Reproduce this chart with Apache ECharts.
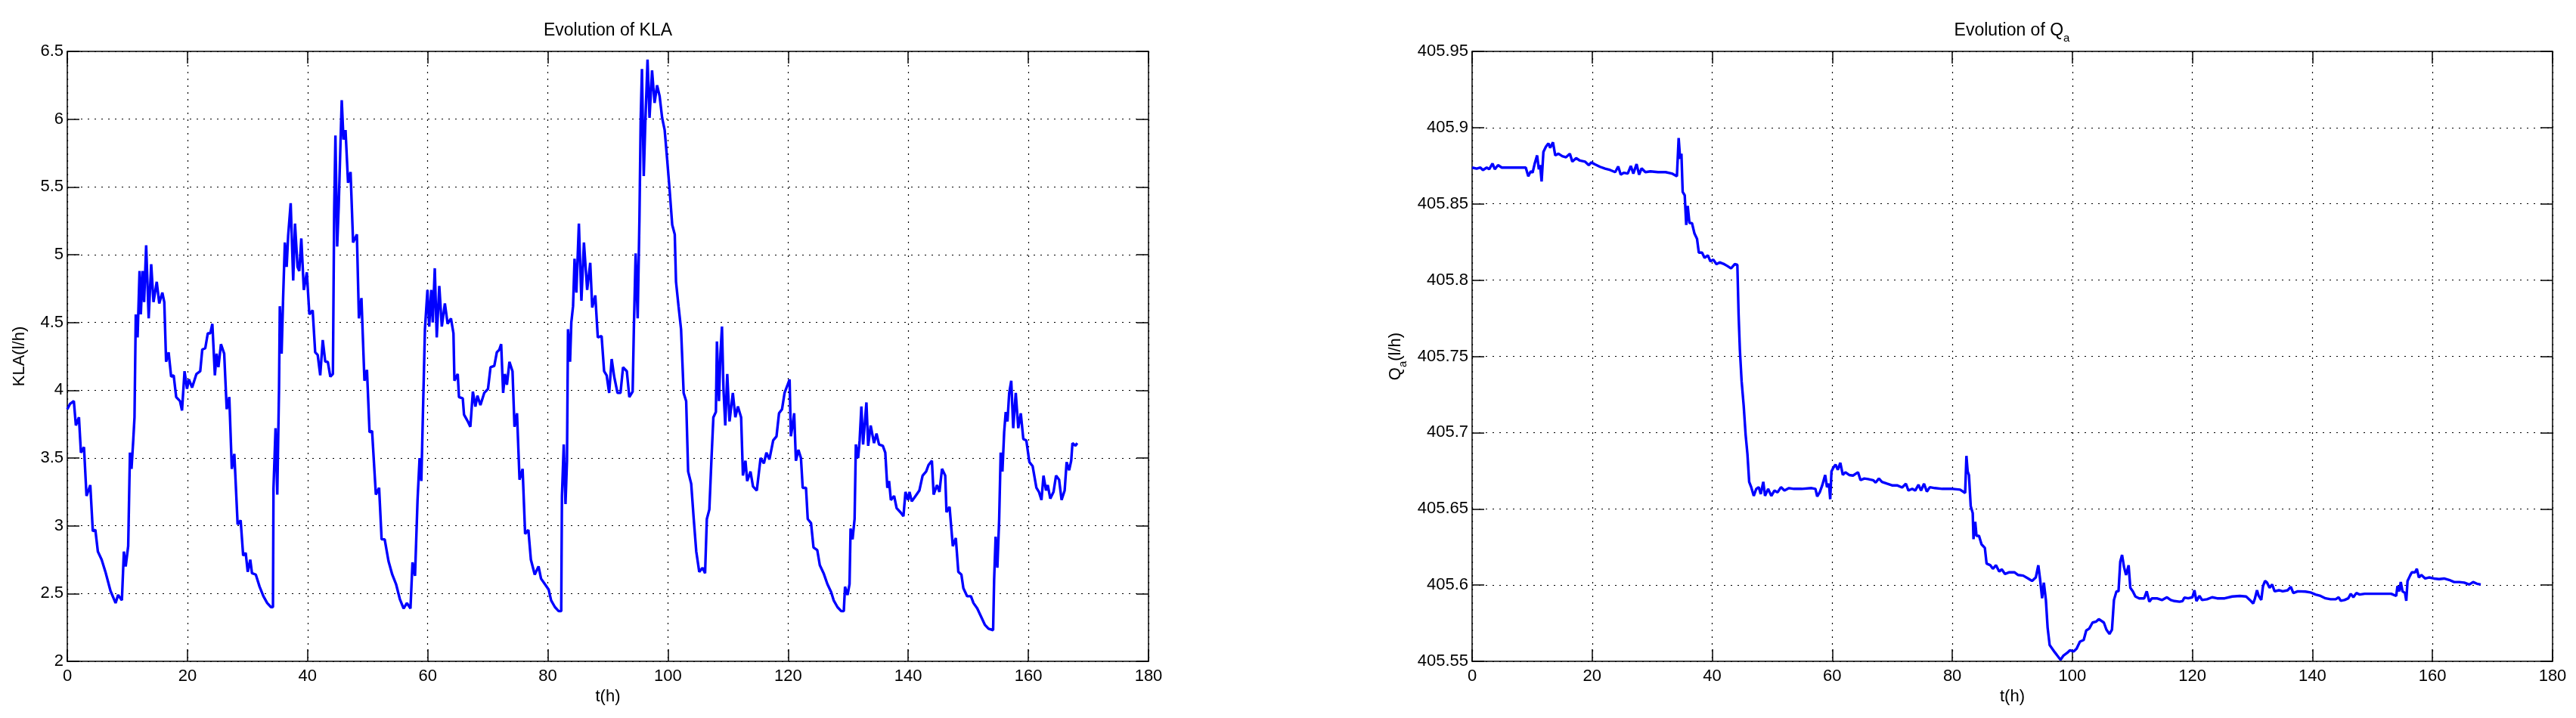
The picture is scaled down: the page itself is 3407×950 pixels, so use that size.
<!DOCTYPE html>
<html>
<head>
<meta charset="utf-8">
<title>Evolution of KLA and Qa</title>
<script src="https://cdn.jsdelivr.net/npm/echarts@6/dist/echarts.min.js"></script>
<style>
  html, body { margin: 0; padding: 0; background: #fff; }
  #chart { width: 3407px; height: 950px; }
</style>
</head>
<body>
<div id="chart"></div>
<script>
// t(h) and KLA(l/h)
const klaT = [
  0, 0.46, 1.09, 1.43, 1.94, 2.27, 2.78, 3.2, 3.83, 4.25, 4.67, 5.09, 5.72, 6.35, 7.19, 8.04, 8.46, 9.09, 9.42, 9.72,
  10.14, 10.43, 10.69, 10.98, 11.19, 11.4, 11.7, 12.03, 12.24, 12.54, 12.79, 13.13, 13.55, 13.97, 14.35, 14.89, 15.31, 15.82, 16.15, 16.45,
  16.87, 17.29, 17.71, 18.13, 18.76, 19.1, 19.52, 19.94, 20.24, 20.78, 21.5, 22.13, 22.47, 22.97, 23.39, 23.81, 24.15, 24.57, 24.86, 25.16,
  25.58, 26.12, 26.54, 26.97, 27.39, 27.81, 28.36, 28.86, 29.28, 29.7, 30.04, 30.46, 30.75, 31.38, 32.02, 32.65, 33.28, 33.91, 34.24, 34.33,
  34.67, 34.96, 35.25, 35.38, 35.68, 35.93, 36.22, 36.52, 36.77, 37.19, 37.61, 37.91, 38.33, 38.62, 38.96, 39.38, 39.88, 40.3, 40.85, 41.27,
  41.69, 42.11, 42.53, 42.95, 43.37, 43.79, 44.22, 44.43, 44.64, 44.93, 45.18, 45.48, 45.69, 45.98, 46.32, 46.74, 47.16, 47.58, 48.21, 48.55,
  48.97, 49.47, 49.89, 50.32, 50.74, 51.37, 51.91, 52.33, 52.84, 53.47, 54.1, 54.73, 55.36, 55.99, 56.54, 57.13, 57.47, 57.89, 58.31, 58.65,
  58.94, 59.15, 59.54, 59.96, 60.25, 60.59, 60.84, 61.18, 61.51, 61.93, 62.35, 62.86, 63.32, 63.87, 64.29, 64.45, 65, 65.21, 65.84, 66.05,
  66.68, 67.1, 67.52, 67.94, 68.28, 68.78, 69.41, 70.04, 70.46, 71.09, 71.51, 71.93, 72.23, 72.56, 72.86, 73.19, 73.61, 74.12, 74.45, 74.87,
  75.29, 75.8, 76.22, 76.76, 77.18, 77.82, 78.45, 78.87, 79.5, 80.13, 80.55, 81.18, 81.81, 82.23, 82.35, 82.65, 82.94, 83.19, 83.36, 83.7,
  83.91, 84.2, 84.45, 84.75, 85.17, 85.59, 86.01, 86.55, 87.06, 87.39, 87.9, 88.32, 88.95, 89.37, 89.79, 90.21, 90.63, 91.05, 91.6, 92.1,
  92.52, 93.15, 93.57, 94.12, 94.33, 94.62, 94.96, 95.25, 95.46, 95.67, 95.97, 96.22, 96.6, 96.93, 97.35, 97.77, 98.19, 98.61, 99.03, 99.45,
  99.87, 100.29, 100.71, 101.13, 101.34, 101.76, 102.18, 102.61, 103.03, 103.36, 103.87, 104.29, 104.71, 105.21, 105.76, 106.18, 106.47, 106.89, 107.23, 107.56,
  107.98, 108.15, 108.49, 108.74, 108.99, 109.24, 109.54, 109.87, 110.25, 110.8, 111.22, 111.64, 112.18, 112.48, 112.9, 113.19, 113.74, 114.16, 114.79, 115.42,
  115.97, 116.39, 116.89, 117.52, 118.07, 118.49, 118.99, 119.41, 119.92, 120.25, 120.46, 120.75, 121.01, 121.3, 121.72, 122.14, 122.43, 122.98, 123.27, 123.82,
  124.23, 124.86, 125.28, 125.91, 126.54, 127.17, 127.59, 128.22, 128.85, 129.27, 129.48, 129.9, 130.23, 130.4, 130.73, 131.07, 131.28, 131.66, 131.91, 132.2,
  132.49, 133.04, 133.33, 133.75, 134.3, 134.72, 135.14, 135.77, 136.18, 136.52, 136.81, 137.11, 137.65, 138.07, 138.7, 139.2, 139.54, 139.96, 140.21, 140.59,
  141.22, 141.85, 142.39, 142.98, 143.4, 143.94, 144.23, 144.78, 145.2, 145.62, 146.16, 146.37, 146.88, 147.42, 147.92, 148.34, 148.85, 149.18, 149.81, 150.44,
  150.86, 151.49, 152.12, 152.75, 153.37, 154.13, 154.3, 154.55, 154.84, 155.14, 155.39, 155.68, 155.97, 156.23, 156.52, 156.81, 157.15, 157.48, 157.9, 158.32,
  158.74, 159.16, 159.66, 160.17, 160.71, 161.34, 161.76, 162.18, 162.52, 162.94, 163.23, 163.65, 164.19, 164.61, 165.12, 165.53, 166.04, 166.37, 166.79, 167.13,
  167.34, 167.84, 168.13
];
const klaV = [
  3.86, 3.9, 3.92, 3.74, 3.8, 3.54, 3.58, 3.22, 3.3, 2.96, 2.97, 2.81, 2.75, 2.66, 2.52, 2.43, 2.49, 2.45, 2.81, 2.7,
  2.85, 3.54, 3.42, 3.63, 3.8, 4.56, 4.39, 4.88, 4.56, 4.88, 4.65, 5.07, 4.53, 4.93, 4.65, 4.8, 4.64, 4.72, 4.65, 4.21,
  4.28, 4.1, 4.11, 3.95, 3.92, 3.85, 4.14, 4.01, 4.08, 4.02, 4.12, 4.14, 4.3, 4.31, 4.42, 4.42, 4.49, 4.11, 4.27, 4.17,
  4.34, 4.27, 3.86, 3.95, 3.42, 3.53, 3.01, 3.04, 2.78, 2.8, 2.66, 2.75, 2.65, 2.64, 2.55, 2.48, 2.43, 2.4, 2.4, 3.28,
  3.72, 3.23, 4.01, 4.62, 4.27, 4.68, 5.09, 4.91, 5.14, 5.38, 4.81, 5.23, 4.91, 4.88, 5.12, 4.74, 4.87, 4.56, 4.59, 4.28,
  4.26, 4.11, 4.37, 4.21, 4.21, 4.1, 4.12, 5.32, 5.88, 5.06, 5.35, 5.82, 6.14, 5.85, 5.92, 5.53, 5.61, 5.09, 5.15, 4.53,
  4.68, 4.07, 4.15, 3.69, 3.7, 3.23, 3.28, 2.9, 2.9, 2.74, 2.64, 2.57, 2.46, 2.39, 2.43, 2.39, 2.73, 2.63, 3.19, 3.5,
  3.33, 3.72, 4.45, 4.74, 4.47, 4.74, 4.5, 4.9, 4.39, 4.77, 4.47, 4.64, 4.49, 4.53, 4.42, 4.07, 4.12, 3.95, 3.94, 3.82,
  3.77, 3.73, 3.99, 3.88, 3.96, 3.89, 3.98, 4.01, 4.17, 4.18, 4.28, 4.3, 4.34, 3.98, 4.12, 4.04, 4.21, 4.14, 3.73, 3.83,
  3.34, 3.42, 2.94, 2.97, 2.75, 2.64, 2.7, 2.61, 2.57, 2.53, 2.45, 2.4, 2.37, 2.37, 3.22, 3.6, 3.16, 3.48, 4.45, 4.21,
  4.5, 4.62, 4.97, 4.72, 5.23, 4.66, 5.09, 4.74, 4.94, 4.61, 4.7, 4.39, 4.4, 4.14, 4.11, 3.98, 4.23, 4.1, 3.98, 3.98,
  4.17, 4.14, 3.95, 3.99, 4.47, 5.01, 4.53, 5.26, 6, 6.37, 5.58, 5.96, 6.44, 6.01, 6.36, 6.12, 6.25, 6.17, 6.01, 5.92,
  5.7, 5.47, 5.22, 5.15, 4.8, 4.62, 4.45, 3.98, 3.92, 3.4, 3.31, 3.05, 2.81, 2.66, 2.69, 2.65, 3.05, 3.12, 3.48, 3.8,
  3.84, 4.36, 3.92, 4.27, 4.47, 4.01, 3.74, 4.12, 3.77, 3.98, 3.8, 3.88, 3.8, 3.37, 3.48, 3.33, 3.4, 3.29, 3.26, 3.5,
  3.46, 3.54, 3.49, 3.63, 3.66, 3.83, 3.86, 3.98, 4.04, 4.08, 3.66, 3.74, 3.83, 3.48, 3.56, 3.5, 3.28, 3.28, 3.05, 3.02,
  2.84, 2.82, 2.71, 2.65, 2.57, 2.51, 2.45, 2.4, 2.37, 2.37, 2.55, 2.49, 2.57, 2.98, 2.9, 3.05, 3.6, 3.5, 3.63, 3.88,
  3.6, 3.91, 3.59, 3.74, 3.61, 3.68, 3.6, 3.59, 3.54, 3.28, 3.33, 3.19, 3.22, 3.13, 3.1, 3.07, 3.25, 3.19, 3.25, 3.18,
  3.22, 3.26, 3.37, 3.4, 3.45, 3.48, 3.23, 3.3, 3.25, 3.42, 3.37, 3.1, 3.14, 2.85, 2.91, 2.66, 2.64, 2.54, 2.48, 2.48,
  2.43, 2.39, 2.33, 2.27, 2.24, 2.23, 2.6, 2.92, 2.69, 3.05, 3.54, 3.4, 3.69, 3.84, 3.77, 3.98, 4.07, 3.72, 3.98, 3.72,
  3.83, 3.64, 3.63, 3.47, 3.44, 3.28, 3.25, 3.19, 3.37, 3.26, 3.3, 3.2, 3.25, 3.37, 3.34, 3.19, 3.26, 3.47, 3.41, 3.48,
  3.61, 3.59, 3.61
];

// t(h) and Qa(l/h)
const qaT = [
  0, 0.76, 1.38, 1.8, 2.43, 2.85, 3.4, 3.78, 4.32, 4.95, 6.21, 7.47, 8.94, 9.36, 9.78, 10.07, 10.41, 10.83, 11.12, 11.33,
  11.58, 11.88, 12.3, 12.71, 13.01, 13.47, 13.85, 14.39, 15.02, 15.65, 16.28, 16.7, 17.33, 17.96, 18.8, 19.43, 19.85, 20.48, 21.32, 22.16,
  23, 23.84, 24.34, 24.76, 25.3, 25.93, 26.44, 26.86, 27.4, 27.82, 28.24, 28.87, 29.71, 30.97, 32.23, 33.28, 34.12, 34.41, 34.66, 34.87,
  35.08, 35.42, 35.67, 35.92, 36.21, 36.63, 37.05, 37.47, 37.77, 38.31, 38.73, 39.28, 39.7, 40.2, 40.7, 41.25, 41.88, 42.51, 43.14, 43.77,
  44.19, 44.4, 44.61, 44.9, 45.24, 45.57, 45.87, 46.16, 46.5, 46.92, 47.34, 47.75, 48.09, 48.51, 48.8, 49.31, 49.85, 50.36, 50.9, 51.45,
  52.04, 52.79, 53.63, 54.89, 56.57, 57.2, 57.49, 57.91, 58.33, 58.82, 59.12, 59.45, 59.66, 59.87, 60.21, 60.55, 60.92, 61.34, 61.76, 62.18,
  62.82, 63.45, 64.29, 64.71, 65.34, 65.97, 66.81, 67.23, 67.77, 68.28, 69.12, 69.96, 70.8, 71.64, 72.27, 72.69, 73.32, 73.82, 74.37, 74.79,
  75.29, 75.76, 76.26, 77.1, 78.36, 80.04, 81.3, 82.14, 82.35, 82.56, 82.77, 83.07, 83.4, 83.53, 83.82, 84.03, 84.45, 84.87, 85.42, 85.71,
  86.34, 86.76, 87.27, 87.82, 88.24, 88.78, 89.5, 90.34, 90.97, 91.81, 92.65, 93.28, 93.91, 94.33, 94.62, 94.96, 95.25, 95.59, 95.88, 96.22,
  96.64, 97.06, 97.48, 98.03, 98.53, 99.16, 99.58, 100.21, 100.71, 101.26, 101.89, 102.31, 102.82, 103.36, 103.99, 104.41, 105.25, 105.67, 106.18, 106.6,
  106.93, 107.35, 107.69, 107.98, 108.28, 108.61, 108.95, 109.37, 109.66, 110.08, 110.5, 111.13, 111.97, 112.39, 112.82, 113.24, 114.08, 114.92, 115.76, 116.39,
  117.02, 117.86, 118.36, 118.66, 119.29, 120, 120.34, 120.67, 121.18, 121.6, 122.44, 123.28, 124.12, 125.38, 126.64, 127.9, 128.95, 129.58, 130.13, 130.42,
  130.76, 131.05, 131.47, 131.76, 132.1, 132.44, 132.86, 133.28, 133.7, 134.41, 135.04, 135.88, 136.39, 136.81, 137.56, 138.82, 139.66, 140.5, 141.34, 142.18,
  143.03, 143.87, 144.37, 144.71, 145.34, 145.97, 146.39, 146.81, 147.31, 147.86, 148.7, 149.75, 151.01, 152.27, 153.11, 153.95, 154.16, 154.45, 154.71, 155,
  155.42, 155.63, 155.84, 156.26, 156.55, 157.1, 157.39, 157.73, 158.15, 158.78, 159.41, 160.25, 161.09, 161.93, 162.77, 163.61, 164.45, 165.29, 166.13, 166.76,
  167.39, 168.03
];
const qaV = [
  405.8738, 405.8731, 405.8738, 405.8722, 405.8738, 405.8727, 405.8765, 405.8727, 405.8754, 405.8738, 405.8738, 405.8738, 405.8738, 405.8681, 405.8715, 405.8704, 405.8761, 405.8818, 405.8727, 405.8754,
  405.8647, 405.8841, 405.8875, 405.8897, 405.8868, 405.8904, 405.8818, 405.8829, 405.8813, 405.8806, 405.8829, 405.8777, 405.88, 405.8784, 405.8777, 405.8754, 405.8772, 405.8759, 405.8743, 405.8731,
  405.8722, 405.8708, 405.8745, 405.8692, 405.8704, 405.8699, 405.8749, 405.8699, 405.8761, 405.8692, 405.8733, 405.8708, 405.8713, 405.8708, 405.8708, 405.8699, 405.8681, 405.8932, 405.8795, 405.8829,
  405.8579, 405.8556, 405.8362, 405.8487, 405.8374, 405.8374, 405.8305, 405.8271, 405.818, 405.818, 405.8146, 405.8162, 405.8123, 405.8134, 405.8105, 405.8116, 405.8107, 405.8093, 405.8077, 405.8105,
  405.81, 405.777, 405.7542, 405.7337, 405.7178, 405.6984, 405.6859, 405.6677, 405.6642, 405.6585, 405.6631, 405.6642, 405.6597, 405.6677, 405.6585, 405.6631, 405.6585, 405.662, 405.6608, 405.6642,
  405.662, 405.6636, 405.6631, 405.6631, 405.6636, 405.6631, 405.6581, 405.6608, 405.6654, 405.6722, 405.6642, 405.6665, 405.6563, 405.6745, 405.6772, 405.679, 405.6756, 405.6802, 405.6722, 405.674,
  405.6722, 405.6718, 405.674, 405.6688, 405.6699, 405.6695, 405.6688, 405.6672, 405.6699, 405.6677, 405.6665, 405.6654, 405.6654, 405.664, 405.6665, 405.662, 405.6631, 405.662, 405.6658, 405.662,
  405.6665, 405.6613, 405.6642, 405.6636, 405.6631, 405.6631, 405.6626, 405.6604, 405.6847, 405.6745, 405.6722, 405.6517, 405.6472, 405.6301, 405.6415, 405.6323, 405.6323, 405.6267, 405.6244, 405.6141,
  405.613, 405.6107, 405.613, 405.6089, 405.6103, 405.6073, 405.6084, 405.6084, 405.6066, 405.6062, 405.6043, 405.6027, 405.605, 405.613, 405.6039, 405.5913, 405.6016, 405.5902, 405.572, 405.5606,
  405.5583, 405.556, 405.5538, 405.551, 405.5538, 405.5556, 405.5572, 405.5565, 405.5583, 405.5629, 405.564, 405.5702, 405.5715, 405.5754, 405.5761, 405.5777, 405.5754, 405.5708, 405.5679, 405.5708,
  405.5902, 405.5959, 405.5959, 405.6153, 405.6198, 405.6118, 405.6066, 405.613, 405.5982, 405.5959, 405.5925, 405.5913, 405.5913, 405.5959, 405.5891, 405.5913, 405.5913, 405.5902, 405.592, 405.5902,
  405.5895, 405.5891, 405.5895, 405.5918, 405.5913, 405.592, 405.5966, 405.5895, 405.5929, 405.5902, 405.5907, 405.592, 405.5913, 405.5913, 405.5925, 405.5929, 405.5925, 405.5902, 405.5879, 405.5913,
  405.5966, 405.5929, 405.5902, 405.5993, 405.6027, 405.6016, 405.5982, 405.6004, 405.5959, 405.5966, 405.5959, 405.5966, 405.5989, 405.5948, 405.5959, 405.5957, 405.5952, 405.5938, 405.5929, 405.5913,
  405.5907, 405.5907, 405.592, 405.5897, 405.5902, 405.5913, 405.5943, 405.592, 405.5948, 405.5938, 405.5943, 405.5943, 405.5943, 405.5943, 405.5943, 405.5929, 405.5993, 405.5959, 405.602, 405.5959,
  405.5948, 405.5897, 405.6027, 405.6062, 405.6084, 405.6084, 405.6107, 405.605, 405.6066, 405.6043, 405.605, 405.6043, 405.6039, 405.6043, 405.6034, 405.602, 405.602, 405.6016, 405.6004, 405.602,
  405.6009, 405.6004
];

const xTicks = { min: 0, max: 180, interval: 20 };
const klaTicks = { min: 2, max: 6.5, interval: 0.5 };
const qaTicks = { min: 405.55, max: 405.95, interval: 0.05 };

const FONT = 'Liberation Sans';
const BLUE = '#0000ff';

const pairs = (xs, ys) => xs.map((x, i) => [x, ys[i]]);
const fmt = (v) => String(+v.toFixed(2));

const grids = [
  { left: 89, right: 1888, top: 68, bottom: 75 },
  { left: 1947, right: 31, top: 68, bottom: 75 }
];

// matlab style: box round the axes, ticks inside on every side, dotted grid
const mainX = (gi) => ({
  type: 'value', gridIndex: gi, ...xTicks,
  name: 't(h)', nameLocation: 'middle', nameGap: 31,
  nameTextStyle: { fontFamily: FONT, fontSize: 22, color: '#000' },
  axisLine: { show: true, onZero: false, lineStyle: { color: '#000', width: 1.5 } },
  axisTick: { show: true, inside: true, length: 16, lineStyle: { color: '#000', width: 1.5 } },
  axisLabel: { margin: 9, fontFamily: FONT, fontSize: 22, color: '#000' },
  splitLine: { show: true, lineStyle: { color: '#000', width: 1.2, type: [2, 7] } }
});
const mirrorX = (gi) => ({
  type: 'value', gridIndex: gi, ...xTicks, position: 'top',
  axisLine: { show: true, onZero: false, lineStyle: { color: '#000', width: 1.5 } },
  axisTick: { show: true, inside: true, length: 16, lineStyle: { color: '#000', width: 1.5 } },
  axisLabel: { show: false }, splitLine: { show: false }
});
const mainY = (gi, ticks, name, gap, rich) => ({
  type: 'value', gridIndex: gi, ...ticks,
  name, nameLocation: 'middle', nameGap: gap, nameRotate: 90,
  nameTextStyle: { fontFamily: FONT, fontSize: 22, color: '#000', rich },
  axisLine: { show: true, onZero: false, lineStyle: { color: '#000', width: 1.5 } },
  axisTick: { show: true, inside: true, length: 16, lineStyle: { color: '#000', width: 1.5 } },
  axisLabel: { margin: 5, fontFamily: FONT, fontSize: 22, color: '#000', formatter: fmt },
  splitLine: { show: true, lineStyle: { color: '#000', width: 1.2, type: [2, 7] } }
});
const mirrorY = (gi, ticks) => ({
  type: 'value', gridIndex: gi, ...ticks, position: 'right',
  axisLine: { show: true, onZero: false, lineStyle: { color: '#000', width: 1.5 } },
  axisTick: { show: true, inside: true, length: 16, lineStyle: { color: '#000', width: 1.5 } },
  axisLabel: { show: false }, splitLine: { show: false }
});

// text with a subscript: n = normal part, s = lowered small part
const subRich = (size) => ({
  n: { fontFamily: FONT, fontSize: size, fontWeight: 'normal', color: '#000', lineHeight: 34, verticalAlign: 'middle' },
  s: { fontFamily: FONT, fontSize: 15, fontWeight: 'normal', color: '#000', lineHeight: 34, verticalAlign: 'bottom' }
});

const chart = echarts.init(document.getElementById('chart'));
chart.setOption({
  animation: false,
  backgroundColor: '#fff',
  title: [
    { text: 'Evolution of KLA', left: 804, top: 29, textAlign: 'center', padding: 0,
      textStyle: { fontFamily: FONT, fontSize: 23, fontWeight: 'normal', color: '#000' } },
    { text: '{n|Evolution of Q}{s|a}', left: 2661, top: 24, textAlign: 'center', padding: 0,
      textStyle: { fontFamily: FONT, fontSize: 23, fontWeight: 'normal', color: '#000', rich: subRich(23) } }
  ],
  grid: grids,
  xAxis: [mainX(0), mirrorX(0), mainX(1), mirrorX(1)],
  yAxis: [
    mainY(0, klaTicks, 'KLA(l/h)', 52),
    mirrorY(0, klaTicks),
    mainY(1, qaTicks, '{n|Q}{s|a}{n|(l/h)}', 84, subRich(22)),
    mirrorY(1, qaTicks)
  ],
  series: [
    { type: 'line', xAxisIndex: 0, yAxisIndex: 0, data: pairs(klaT, klaV),
      showSymbol: false, symbol: 'none', lineStyle: { color: BLUE, width: 3.4 }, clip: true },
    { type: 'line', xAxisIndex: 2, yAxisIndex: 2, data: pairs(qaT, qaV),
      showSymbol: false, symbol: 'none', lineStyle: { color: BLUE, width: 3.4 }, clip: true }
  ]
});
</script>
</body>
</html>
